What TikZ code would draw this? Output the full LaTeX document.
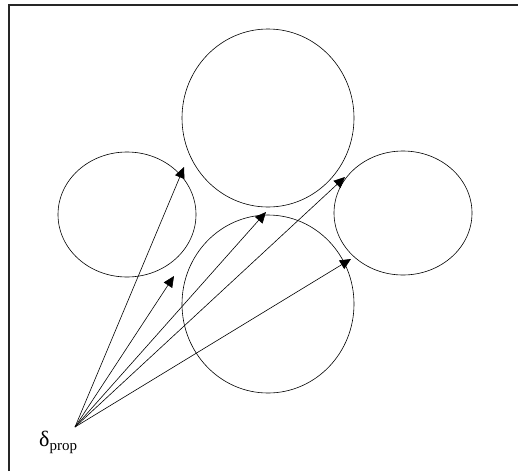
\documentclass[tikz,border=0pt]{standalone}
\usepackage{fontspec}
\setmainfont{Liberation Serif}
\usetikzlibrary{arrows.meta,shapes.geometric}
\begin{document}
\begin{tikzpicture}[x=1pt,y=-1pt,
  grain/.style={draw,ellipse,line width=0.6pt,inner sep=0pt},
  ray/.style={line width=0.6pt,-{Triangle[length=11pt,width=10pt]}},
  frameline/.style={line width=1.6pt,draw=black!85}]
\useasboundingbox (0,0) rectangle (518,471);
% frame (top and left edges visible)
\draw[frameline] (9,471) -- (9,5) -- (518,5);
% grains
\node[grain,minimum width=172pt,minimum height=178pt] (top) at (268,118) {};
\node[grain,minimum width=172pt,minimum height=178pt] (bottom) at (268,304) {};
\node[grain,minimum width=138pt,minimum height=125pt] (left) at (127,214.5) {};
\node[grain,minimum width=138pt,minimum height=124pt] (right) at (403,213) {};
% source and targets
\coordinate (src) at (75,427);
\coordinate (t1) at (184,167);
\coordinate (t2) at (174,276);
\coordinate (t3) at (266,212);
\coordinate (t4) at (345,177);
\coordinate (t5) at (351,259);
\foreach \t in {t1,t2,t3,t4,t5}
  \draw[ray] (src) -- (\t);
\node[inner sep=0pt,anchor=base west] (lbl) at (39,446) {\fontsize{22pt}{24pt}\selectfont δ\raisebox{-4pt}{\fontsize{15pt}{17pt}\selectfont prop}};
\end{tikzpicture}
\end{document}
